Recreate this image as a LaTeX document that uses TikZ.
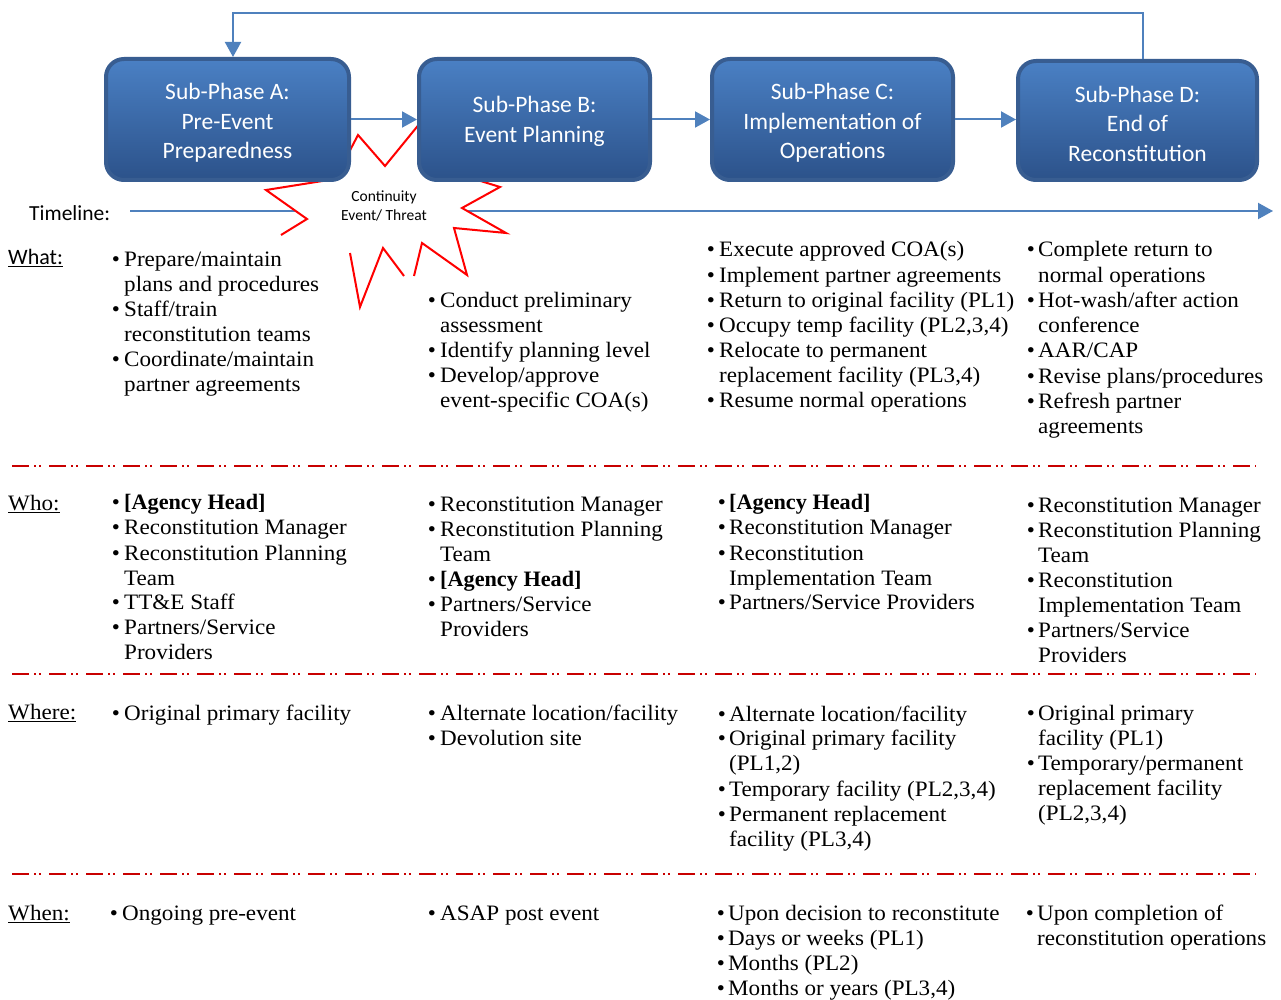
\documentclass[tikz,border=0pt]{standalone}
\usepackage{fontspec}
\setmainfont{Liberation Serif}[FakeStretch=1.05, BoldFeatures={FakeStretch=1.01}]
\newfontfamily\calfont{Carlito}
\usetikzlibrary{arrows.meta}
\definecolor{lineblue}{RGB}{79,129,189}
\definecolor{boxtop}{RGB}{74,128,196}
\definecolor{boxbot}{RGB}{44,82,138}
\definecolor{boxborder}{RGB}{56,93,145}
\definecolor{sepred}{RGB}{200,0,0}
\newcommand\bitem[5]{%
  \node[bodytext,anchor=base] (#1b) at (#2,#4) {\textbullet};
  \node[bodytext] (#1) at (#3,#4) {\begin{tabular}[t]{@{}l@{}}#5\end{tabular}};}
\begin{document}
\begin{tikzpicture}[x=1pt,y=-1pt,
  bodytext/.style={font=\fontsize{22}{25}\selectfont, inner sep=0pt, anchor=base west},
  rowlab/.style={font=\fontsize{22}{25}\selectfont, inner sep=0pt, anchor=base west},
  phase/.style={shape=rectangle, rounded corners=18pt, draw=boxborder, line width=4pt,
    top color=boxtop, bottom color=boxbot, inner sep=0pt},
  phasetxt/.style={text=white, font=\calfont\fontsize{23.5}{29.5}\selectfont, align=center, inner sep=0pt},
  conn/.style={draw=lineblue, line width=2pt},
  arr/.style={conn, -{Triangle[length=15pt,width=16pt]}},
  sepline/.style={draw=sepred, line width=2.5pt, dash pattern=on 17pt off 5pt on 2pt off 3pt on 2pt off 8pt},
  burst/.style={draw=red, line width=2pt, line join=miter}]
\fill[white] (0,0) rectangle (1281,1000);
\useasboundingbox (0,0) rectangle (1281,1000);

% timeline
\node[inner sep=0pt, anchor=base west, font=\calfont\fontsize{21.5}{26}\selectfont] (tlab) at (29,221) {Timeline:};
\coordinate (tl0) at (130,211);
\coordinate (tl1) at (1273,211);
\draw[arr] (tl0) -- (tl1);

% starburst
\fill[white] (358,135) -- (385,166) -- (425,117) -- (445,170) -- (500,187) -- (462,208) -- (506,233) -- (454,228) -- (467,275) -- (422,243) -- (409,296) -- (383,248) -- (360,307) -- (348,242) -- (310,275) -- (318,245) -- (270,242) -- (307,219) -- (266,190) -- (335,179) -- cycle;
\draw[burst] (335,179) -- (266,190) -- (307,219) -- (281,235);
\draw[burst] (335,179) -- (358,135) -- (385,166) -- (425,117) -- (445,170) -- (500,187) -- (462,208) -- (506,233) -- (454,228) -- (467,275) -- (422,243) -- (414,276);
\draw[burst] (404,276) -- (383,248) -- (360,307) -- (350,253);
\node[align=center, inner sep=0pt, font=\calfont\fontsize{15.5}{19}\selectfont] (cet) at (384,206) {Continuity\\Event/ Threat};

% phase boxes
\node[phase, minimum width=243pt, minimum height=121pt] (A) at (227.5,119.5) {};
\node[phase, minimum width=231pt, minimum height=121pt] (B) at (534.5,119.5) {};
\node[phase, minimum width=241pt, minimum height=121pt] (C) at (832.5,119.5) {};
\node[phase, minimum width=239pt, minimum height=119pt] (D) at (1137.5,120.5) {};
\node[phasetxt] (At) at ([yshift=-3.5pt]A.center) {Sub-Phase A:\\Pre-Event\\Preparedness};
\node[phasetxt] (Bt) at ([yshift=-2pt]B.center) {Sub-Phase B:\\Event Planning};
\node[phasetxt] (Ct) at ([yshift=-3.5pt]C.center) {Sub-Phase C:\\Implementation of\\Operations};
\node[phasetxt] (Dt) at ([yshift=-3pt]D.center) {Sub-Phase D:\\End of\\Reconstitution};

\draw[arr] (A.east) -- (B.west);
\draw[arr] (B.east) -- (C.west);
\draw[arr] (C.east) -- (C.east -| D.west);
\draw[arr] ([xshift=5.5pt]D.north) -- ++(0,-46) -| ([xshift=5.5pt]A.north);

% separators
\coordinate (s1a) at (12,466); \coordinate (s1b) at (1256,466);
\coordinate (s2a) at (12,674); \coordinate (s2b) at (1256,674);
\coordinate (s3a) at (12,874); \coordinate (s3b) at (1256,874);
\draw[sepline] (s1a) -- (s1b);
\draw[sepline] (s2a) -- (s2b);
\draw[sepline] (s3a) -- (s3b);

% row labels
\node[rowlab] (lwhat) at (8,265) {\calfont\underline{What:}};
\node[rowlab] (lwho) at (8,510) {\underline{Who:}};
\node[rowlab] (lwhere) at (8,719) {\underline{Where:}};
\node[rowlab] (lwhen) at (8,920) {\underline{When:}};

% What
\bitem{wa1}{116}{124}{266}{Prepare/maintain\\plans and procedures}
\bitem{wa2}{116}{124}{316}{Staff/train\\reconstitution teams}
\bitem{wa3}{116}{124}{366}{Coordinate/maintain\\partner agreements}
\bitem{wb1}{432}{440}{307}{Conduct preliminary\\assessment}
\bitem{wb2}{432}{440}{357}{Identify planning level}
\bitem{wb3}{432}{440}{382}{Develop/approve\\event-specific COA(s)}
\bitem{wc1}{711}{719}{257}{Execute approved COA(s)}
\bitem{wc2}{711}{719}{282}{Implement partner agreements}
\bitem{wc3}{711}{719}{307}{Return to original facility (PL1)}
\bitem{wc4}{711}{719}{332}{Occupy temp facility (PL2,3,4)}
\bitem{wc5}{711}{719}{357}{Relocate to permanent\\replacement facility (PL3,4)}
\bitem{wc6}{711}{719}{407}{Resume normal operations}
\bitem{wd1}{1031}{1038}{257}{Complete return to\\normal operations}
\bitem{wd2}{1031}{1038}{307}{Hot-wash/after action\\conference}
\bitem{wd3}{1031}{1038}{357}{AAR/CAP}
\bitem{wd4}{1031}{1038}{383}{Revise plans/procedures}
\bitem{wd5}{1031}{1038}{408}{Refresh partner\\agreements}

% Who
\bitem{ha1}{116}{124}{509}{\textbf{[Agency Head]}}
\bitem{ha2}{116}{124}{534}{Reconstitution Manager}
\bitem{ha3}{116}{124}{560}{Reconstitution Planning\\Team}
\bitem{ha4}{116}{124}{609}{TT\&E Staff}
\bitem{ha5}{116}{124}{634}{Partners/Service\\Providers}
\bitem{hb1}{432}{440}{511}{Reconstitution Manager}
\bitem{hb2}{432}{440}{536}{Reconstitution Planning\\Team}
\bitem{hb3}{432}{440}{586}{\textbf{[Agency Head]}}
\bitem{hb4}{432}{440}{611}{Partners/Service\\Providers}
\bitem{hc1}{722}{729}{509}{\textbf{[Agency Head]}}
\bitem{hc2}{722}{729}{534}{Reconstitution Manager}
\bitem{hc3}{722}{729}{560}{Reconstitution\\Implementation Team}
\bitem{hc4}{722}{729}{609}{Partners/Service Providers}
\bitem{hd1}{1031}{1038}{512}{Reconstitution Manager}
\bitem{hd2}{1031}{1038}{537}{Reconstitution Planning\\Team}
\bitem{hd3}{1031}{1038}{587}{Reconstitution\\Implementation Team}
\bitem{hd4}{1031}{1038}{637}{Partners/Service\\Providers}

% Where
\bitem{ra1}{116}{124}{720}{Original primary facility}
\bitem{rb1}{432}{440}{720}{Alternate location/facility}
\bitem{rb2}{432}{440}{745}{Devolution site}
\bitem{rc1}{722}{729}{721}{Alternate location/facility}
\bitem{rc2}{722}{729}{745}{Original primary facility\\(PL1,2)}
\bitem{rc3}{722}{729}{796}{Temporary facility (PL2,3,4)}
\bitem{rc4}{722}{729}{821}{Permanent replacement\\facility (PL3,4)}
\bitem{rd1}{1031}{1038}{720}{Original primary\\facility (PL1)}
\bitem{rd2}{1031}{1038}{770}{Temporary/permanent\\replacement facility\\(PL2,3,4)}

% When
\bitem{na1}{114}{122}{920}{Ongoing pre-event}
\bitem{nb1}{432}{440}{920}{ASAP post event}
\bitem{nc1}{721}{728}{920}{Upon decision to reconstitute}
\bitem{nc2}{721}{728}{945}{Days or weeks (PL1)}
\bitem{nc3}{721}{728}{970}{Months (PL2)}
\bitem{nc4}{721}{728}{995}{Months or years (PL3,4)}
\bitem{nd1}{1030}{1037}{920}{Upon completion of\\reconstitution operations}
\end{tikzpicture}
\end{document}
